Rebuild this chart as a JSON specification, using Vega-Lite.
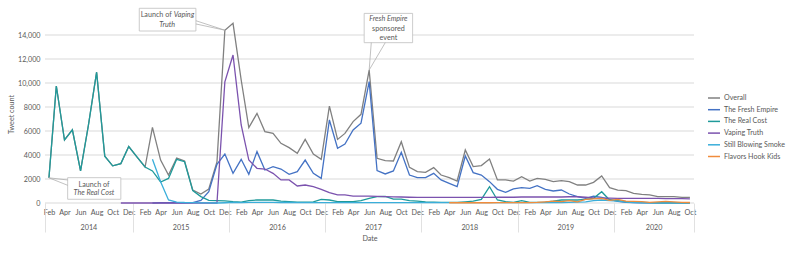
{
  "$schema": "https://vega.github.io/schema/vega-lite/v6.json",
  "width": 649,
  "height": 186,
  "autosize": {"type": "none"},
  "padding": {"left": 45, "top": 17, "right": 92, "bottom": 48},
  "background": "white",
  "config": {
    "view": {"stroke": null},
    "font": "Lato",
    "axis": {"labelColor": "#595959", "labelFont": "Lato", "labelFontSize": 7.2, "titleColor": "#595959", "titleFont": "Lato", "titleFontSize": 7.2, "titleFontWeight": "normal"},
    "legend": {"labelColor": "#595959", "labelFont": "Lato", "labelFontSize": 7.1, "labelLimit": 300}
  },
  "datasets": {
    "tweets": [
      {"date": "2014-02-01", "Overall": 2100, "The Real Cost": 2100},
      {"date": "2014-03-01", "Overall": 9750, "The Real Cost": 9750},
      {"date": "2014-04-01", "Overall": 5250, "The Real Cost": 5250},
      {"date": "2014-05-01", "Overall": 6100, "The Real Cost": 6100},
      {"date": "2014-06-01", "Overall": 2670, "The Real Cost": 2670},
      {"date": "2014-07-01", "Overall": 6500, "The Real Cost": 6500},
      {"date": "2014-08-01", "Overall": 10900, "The Real Cost": 10900},
      {"date": "2014-09-01", "Overall": 3900, "The Real Cost": 3900},
      {"date": "2014-10-01", "Overall": 3100, "The Real Cost": 3100},
      {"date": "2014-11-01", "Overall": 3280, "The Real Cost": 3280, "Vaping Truth": 0},
      {"date": "2014-12-01", "Overall": 4700, "The Real Cost": 4700, "Vaping Truth": 0},
      {"date": "2015-01-01", "Overall": 3850, "The Real Cost": 3850, "Vaping Truth": 0},
      {"date": "2015-02-01", "Overall": 3000, "The Real Cost": 3000, "Vaping Truth": 0},
      {"date": "2015-03-01", "Overall": 6300, "The Fresh Empire": 0, "The Real Cost": 2670, "Vaping Truth": 0, "Still Blowing Smoke": 3650},
      {"date": "2015-04-01", "Overall": 3580, "The Fresh Empire": 20, "The Real Cost": 1750, "Vaping Truth": 0, "Still Blowing Smoke": 1780},
      {"date": "2015-05-01", "Overall": 2330, "The Fresh Empire": 30, "The Real Cost": 2050, "Vaping Truth": 0, "Still Blowing Smoke": 250},
      {"date": "2015-06-01", "Overall": 3740, "The Fresh Empire": 20, "The Real Cost": 3640, "Vaping Truth": 0, "Still Blowing Smoke": 80},
      {"date": "2015-07-01", "Overall": 3500, "The Fresh Empire": 20, "The Real Cost": 3440, "Vaping Truth": 0, "Still Blowing Smoke": 40},
      {"date": "2015-08-01", "Overall": 1080, "The Fresh Empire": 30, "The Real Cost": 1030, "Vaping Truth": 0, "Still Blowing Smoke": 30},
      {"date": "2015-09-01", "Overall": 750, "The Fresh Empire": 220, "The Real Cost": 530, "Vaping Truth": 0, "Still Blowing Smoke": 10},
      {"date": "2015-10-01", "Overall": 1170, "The Fresh Empire": 940, "The Real Cost": 220, "Vaping Truth": 0, "Still Blowing Smoke": 10},
      {"date": "2015-11-01", "Overall": 3420, "The Fresh Empire": 3220, "The Real Cost": 200, "Vaping Truth": 0, "Still Blowing Smoke": 0},
      {"date": "2015-12-01", "Overall": 14400, "The Fresh Empire": 4080, "The Real Cost": 180, "Vaping Truth": 10100, "Still Blowing Smoke": 20},
      {"date": "2016-01-01", "Overall": 14970, "The Fresh Empire": 2470, "The Real Cost": 120, "Vaping Truth": 12330, "Still Blowing Smoke": 50},
      {"date": "2016-02-01", "Overall": 10250, "The Fresh Empire": 3640, "The Real Cost": 80, "Vaping Truth": 6500, "Still Blowing Smoke": 30},
      {"date": "2016-03-01", "Overall": 6280, "The Fresh Empire": 2390, "The Real Cost": 200, "Vaping Truth": 3580, "Still Blowing Smoke": 60},
      {"date": "2016-04-01", "Overall": 7470, "The Fresh Empire": 4280, "The Real Cost": 250, "Vaping Truth": 2890, "Still Blowing Smoke": 50},
      {"date": "2016-05-01", "Overall": 5950, "The Fresh Empire": 2750, "The Real Cost": 250, "Vaping Truth": 2830, "Still Blowing Smoke": 50},
      {"date": "2016-06-01", "Overall": 5800, "The Fresh Empire": 3030, "The Real Cost": 250, "Vaping Truth": 2470, "Still Blowing Smoke": 50},
      {"date": "2016-07-01", "Overall": 4970, "The Fresh Empire": 2830, "The Real Cost": 150, "Vaping Truth": 1920, "Still Blowing Smoke": 40},
      {"date": "2016-08-01", "Overall": 4610, "The Fresh Empire": 2390, "The Real Cost": 120, "Vaping Truth": 1920, "Still Blowing Smoke": 40},
      {"date": "2016-09-01", "Overall": 4140, "The Fresh Empire": 2610, "The Real Cost": 80, "Vaping Truth": 1420, "Still Blowing Smoke": 30},
      {"date": "2016-10-01", "Overall": 5300, "The Fresh Empire": 3580, "The Real Cost": 80, "Vaping Truth": 1500, "Still Blowing Smoke": 30},
      {"date": "2016-11-01", "Overall": 4080, "The Fresh Empire": 2470, "The Real Cost": 100, "Vaping Truth": 1360, "Still Blowing Smoke": 30},
      {"date": "2016-12-01", "Overall": 3640, "The Fresh Empire": 2050, "The Real Cost": 300, "Vaping Truth": 1140, "Still Blowing Smoke": 30},
      {"date": "2017-01-01", "Overall": 8080, "The Fresh Empire": 6920, "The Real Cost": 250, "Vaping Truth": 860, "Still Blowing Smoke": 30},
      {"date": "2017-02-01", "Overall": 5300, "The Fresh Empire": 4560, "The Real Cost": 120, "Vaping Truth": 670, "Still Blowing Smoke": 30},
      {"date": "2017-03-01", "Overall": 5800, "The Fresh Empire": 4920, "The Real Cost": 120, "Vaping Truth": 670, "Still Blowing Smoke": 30},
      {"date": "2017-04-01", "Overall": 6780, "The Fresh Empire": 6080, "The Real Cost": 120, "Vaping Truth": 580, "Still Blowing Smoke": 30},
      {"date": "2017-05-01", "Overall": 7390, "The Fresh Empire": 6650, "The Real Cost": 200, "Vaping Truth": 580, "Still Blowing Smoke": 30},
      {"date": "2017-06-01", "Overall": 11080, "The Fresh Empire": 10110, "The Real Cost": 390, "Vaping Truth": 580, "Still Blowing Smoke": 30},
      {"date": "2017-07-01", "Overall": 3720, "The Fresh Empire": 2700, "The Real Cost": 530, "Vaping Truth": 560, "Still Blowing Smoke": 30},
      {"date": "2017-08-01", "Overall": 3530, "The Fresh Empire": 2420, "The Real Cost": 550, "Vaping Truth": 530, "Still Blowing Smoke": 30},
      {"date": "2017-09-01", "Overall": 3500, "The Fresh Empire": 2670, "The Real Cost": 330, "Vaping Truth": 510, "Still Blowing Smoke": 30},
      {"date": "2017-10-01", "Overall": 5110, "The Fresh Empire": 4220, "The Real Cost": 330, "Vaping Truth": 500, "Still Blowing Smoke": 30},
      {"date": "2017-11-01", "Overall": 2970, "The Fresh Empire": 2330, "The Real Cost": 200, "Vaping Truth": 480, "Still Blowing Smoke": 30},
      {"date": "2017-12-01", "Overall": 2610, "The Fresh Empire": 2110, "The Real Cost": 150, "Vaping Truth": 470, "Still Blowing Smoke": 30},
      {"date": "2018-01-01", "Overall": 2550, "The Fresh Empire": 2110, "The Real Cost": 100, "Vaping Truth": 470, "Still Blowing Smoke": 30},
      {"date": "2018-02-01", "Overall": 2950, "The Fresh Empire": 2470, "The Real Cost": 80, "Vaping Truth": 470, "Still Blowing Smoke": 30},
      {"date": "2018-03-01", "Overall": 2330, "The Fresh Empire": 1920, "The Real Cost": 50, "Vaping Truth": 470, "Still Blowing Smoke": 30},
      {"date": "2018-04-01", "Overall": 2110, "The Fresh Empire": 1640, "The Real Cost": 50, "Vaping Truth": 470, "Still Blowing Smoke": 30, "Flavors Hook Kids": 20},
      {"date": "2018-05-01", "Overall": 1830, "The Fresh Empire": 1360, "The Real Cost": 50, "Vaping Truth": 470, "Still Blowing Smoke": 30, "Flavors Hook Kids": 20},
      {"date": "2018-06-01", "Overall": 4420, "The Fresh Empire": 3920, "The Real Cost": 100, "Vaping Truth": 470, "Still Blowing Smoke": 30, "Flavors Hook Kids": 20},
      {"date": "2018-07-01", "Overall": 3030, "The Fresh Empire": 2530, "The Real Cost": 150, "Vaping Truth": 470, "Still Blowing Smoke": 30, "Flavors Hook Kids": 20},
      {"date": "2018-08-01", "Overall": 3120, "The Fresh Empire": 2330, "The Real Cost": 300, "Vaping Truth": 470, "Still Blowing Smoke": 30, "Flavors Hook Kids": 20},
      {"date": "2018-09-01", "Overall": 3670, "The Fresh Empire": 1780, "The Real Cost": 1360, "Vaping Truth": 470, "Still Blowing Smoke": 30, "Flavors Hook Kids": 20},
      {"date": "2018-10-01", "Overall": 1920, "The Fresh Empire": 1140, "The Real Cost": 250, "Vaping Truth": 480, "Still Blowing Smoke": 30, "Flavors Hook Kids": 30},
      {"date": "2018-11-01", "Overall": 1920, "The Fresh Empire": 890, "The Real Cost": 110, "Vaping Truth": 480, "Still Blowing Smoke": 30, "Flavors Hook Kids": 30},
      {"date": "2018-12-01", "Overall": 1830, "The Fresh Empire": 1170, "The Real Cost": 50, "Vaping Truth": 480, "Still Blowing Smoke": 30, "Flavors Hook Kids": 30},
      {"date": "2019-01-01", "Overall": 2190, "The Fresh Empire": 1280, "The Real Cost": 190, "Vaping Truth": 500, "Still Blowing Smoke": 30, "Flavors Hook Kids": 30},
      {"date": "2019-02-01", "Overall": 1830, "The Fresh Empire": 1220, "The Real Cost": 50, "Vaping Truth": 500, "Still Blowing Smoke": 30, "Flavors Hook Kids": 30},
      {"date": "2019-03-01", "Overall": 2050, "The Fresh Empire": 1440, "The Real Cost": 50, "Vaping Truth": 500, "Still Blowing Smoke": 30, "Flavors Hook Kids": 50},
      {"date": "2019-04-01", "Overall": 1970, "The Fresh Empire": 1140, "The Real Cost": 80, "Vaping Truth": 500, "Still Blowing Smoke": 30, "Flavors Hook Kids": 100},
      {"date": "2019-05-01", "Overall": 1780, "The Fresh Empire": 1000, "The Real Cost": 150, "Vaping Truth": 500, "Still Blowing Smoke": 30, "Flavors Hook Kids": 150},
      {"date": "2019-06-01", "Overall": 1860, "The Fresh Empire": 1080, "The Real Cost": 250, "Vaping Truth": 500, "Still Blowing Smoke": 40, "Flavors Hook Kids": 120},
      {"date": "2019-07-01", "Overall": 1780, "The Fresh Empire": 750, "The Real Cost": 250, "Vaping Truth": 520, "Still Blowing Smoke": 60, "Flavors Hook Kids": 200},
      {"date": "2019-08-01", "Overall": 1500, "The Fresh Empire": 530, "The Real Cost": 250, "Vaping Truth": 520, "Still Blowing Smoke": 80, "Flavors Hook Kids": 100},
      {"date": "2019-09-01", "Overall": 1500, "The Fresh Empire": 390, "The Real Cost": 300, "Vaping Truth": 480, "Still Blowing Smoke": 100, "Flavors Hook Kids": 300},
      {"date": "2019-10-01", "Overall": 1720, "The Fresh Empire": 580, "The Real Cost": 390, "Vaping Truth": 420, "Still Blowing Smoke": 200, "Flavors Hook Kids": 350},
      {"date": "2019-11-01", "Overall": 2250, "The Fresh Empire": 470, "The Real Cost": 940, "Vaping Truth": 400, "Still Blowing Smoke": 250, "Flavors Hook Kids": 380},
      {"date": "2019-12-01", "Overall": 1280, "The Fresh Empire": 300, "The Real Cost": 250, "Vaping Truth": 400, "Still Blowing Smoke": 200, "Flavors Hook Kids": 220},
      {"date": "2020-01-01", "Overall": 1080, "The Fresh Empire": 130, "The Real Cost": 190, "Vaping Truth": 390, "Still Blowing Smoke": 150, "Flavors Hook Kids": 300},
      {"date": "2020-02-01", "Overall": 1030, "The Fresh Empire": 50, "The Real Cost": 110, "Vaping Truth": 390, "Still Blowing Smoke": 80, "Flavors Hook Kids": 150},
      {"date": "2020-03-01", "Overall": 810, "The Fresh Empire": 30, "The Real Cost": 80, "Vaping Truth": 390, "Still Blowing Smoke": 40, "Flavors Hook Kids": 130},
      {"date": "2020-04-01", "Overall": 720, "The Fresh Empire": 20, "The Real Cost": 50, "Vaping Truth": 390, "Still Blowing Smoke": 20, "Flavors Hook Kids": 120},
      {"date": "2020-05-01", "Overall": 670, "The Fresh Empire": 20, "The Real Cost": 30, "Vaping Truth": 380, "Still Blowing Smoke": 20, "Flavors Hook Kids": 60},
      {"date": "2020-06-01", "Overall": 530, "The Fresh Empire": 10, "The Real Cost": 20, "Vaping Truth": 380, "Still Blowing Smoke": 10, "Flavors Hook Kids": 100},
      {"date": "2020-07-01", "Overall": 530, "The Fresh Empire": 10, "The Real Cost": 20, "Vaping Truth": 370, "Still Blowing Smoke": 10, "Flavors Hook Kids": 130},
      {"date": "2020-08-01", "Overall": 530, "The Fresh Empire": 10, "The Real Cost": 20, "Vaping Truth": 370, "Still Blowing Smoke": 10, "Flavors Hook Kids": 90},
      {"date": "2020-09-01", "Overall": 470, "The Fresh Empire": 10, "The Real Cost": 20, "Vaping Truth": 360, "Still Blowing Smoke": 10, "Flavors Hook Kids": 60},
      {"date": "2020-10-01", "Overall": 470, "The Fresh Empire": 10, "The Real Cost": 10, "Vaping Truth": 350, "Still Blowing Smoke": 10, "Flavors Hook Kids": 40}
    ],
    "gridlines": [
      {"value": 0}, {"value": 2000}, {"value": 4000}, {"value": 6000}, {"value": 8000}, {"value": 10000}, {"value": 12000}, {"value": 14000}
    ],
    "boxes": [
      {"date": "2015-01-10", "date2": "2015-08-13", "value": 16225, "value2": 14333},
      {"date": "2014-04-13", "date2": "2014-11-01", "value": 2110, "value2": 310},
      {"date": "2017-05-13", "date2": "2017-11-13", "value": 15800, "value2": 13360}
    ],
    "leaders": [
      {"date": "2015-08-13", "value": 15190, "date2": "2015-12-01", "value2": 14400},
      {"date": "2015-08-13", "value": 14920, "date2": "2015-12-01", "value2": 14400},
      {"date": "2014-04-13", "value": 1917, "date2": "2014-02-01", "value2": 2100},
      {"date": "2014-04-13", "value": 1475, "date2": "2014-02-01", "value2": 2100},
      {"date": "2017-06-09", "value": 13360, "date2": "2017-06-01", "value2": 11080},
      {"date": "2017-08-01", "value": 13360, "date2": "2017-06-01", "value2": 11080}
    ],
    "textRegular": [
      {"date": "2014-07-22", "value": 1525, "text": "Launch of"},
      {"date": "2017-08-13", "value": 14525, "text": "sponsored"},
      {"date": "2017-08-13", "value": 13775, "text": "event"}
    ],
    "textItalic": [
      {"date": "2015-04-26", "value": 14858, "text": "Truth"},
      {"date": "2014-07-22", "value": 808, "text": "The Real Cost"},
      {"date": "2017-08-13", "value": 15308, "text": "Fresh Empire"}
    ],
    "textSplit": [
      {"date": "2015-05-17", "value": 15667, "left": "Launch of", "right": "Vaping"}
    ]
  },
  "resolve": {"axis": {"x": "independent", "y": "independent"}},
  "layer": [
    {
      "data": {"name": "gridlines"},
      "mark": {"type": "rule", "stroke": "#D9D9D9", "strokeWidth": 1},
      "encoding": {
        "y": {"field": "value", "type": "quantitative", "scale": {"domain": [0, 15500], "nice": false, "zero": true},
          "axis": {"orient": "left", "values": [0, 2000, 4000, 6000, 8000, 10000, 12000, 14000], "labelExpr": "datum.value >= 10000 ? format(datum.value, ',') : format(datum.value, 'd')", "labelOverlap": false, "grid": false, "domain": false, "ticks": false, "labelPadding": 5, "title": "Tweet count", "titleX": -30, "titleY": 97}}
      }
    },
    {
      "data": {"name": "tweets"},
      "transform": [{"fold": ["Overall", "The Fresh Empire", "The Real Cost", "Vaping Truth", "Still Blowing Smoke", "Flavors Hook Kids"], "as": ["series", "value"]}],
      "mark": {"type": "line", "strokeWidth": 1.3},
      "encoding": {
        "x": {
          "field": "date", "type": "temporal",
          "scale": {"type": "utc", "domain": [{"year": 2014, "month": 1, "date": 17, "utc": true}, {"year": 2020, "month": 10, "date": 16, "hours": 12, "utc": true}]},
          "axis": {"orient": "bottom", "tickCount": {"interval": "month", "step": 1}, "labelExpr": "utcmonth(datum.value) % 2 == 1 ? utcFormat(datum.value, '%b') : ''", "labelOverlap": false, "labelFlush": false, "ticks": false, "domain": false, "grid": false, "labelPadding": 5, "title": null}
        },
        "y": {"field": "value", "type": "quantitative", "axis": null},
        "color": {
          "field": "series", "type": "nominal",
          "scale": {"domain": ["Overall", "The Fresh Empire", "The Real Cost", "Vaping Truth", "Still Blowing Smoke", "Flavors Hook Kids"], "range": ["#808080", "#4472C4", "#1F9A9A", "#7B52AE", "#3AAEDA", "#F08C3C"]},
          "legend": {"title": null, "orient": "none", "legendX": 662, "legendY": 74, "symbolType": "stroke", "symbolSize": 144, "symbolStrokeWidth": 1.5, "rowPadding": 0.7, "labelOffset": 3, "labelLimit": 300}
        }
      }
    },
    {
      "data": {"name": "boxes"},
      "mark": {"type": "rect", "fill": "white", "stroke": "#BFBFBF", "strokeWidth": 0.8},
      "encoding": {
        "x": {"field": "date", "type": "temporal",
          "axis": {"orient": "bottom", "values": [
            {"year": 2014, "month": 1, "date": 17, "utc": true},
            {"year": 2014, "month": 12, "date": 16, "hours": 12, "utc": true},
            {"year": 2015, "month": 12, "date": 16, "hours": 12, "utc": true},
            {"year": 2016, "month": 12, "date": 16, "hours": 12, "utc": true},
            {"year": 2017, "month": 12, "date": 16, "hours": 12, "utc": true},
            {"year": 2018, "month": 12, "date": 16, "hours": 12, "utc": true},
            {"year": 2019, "month": 12, "date": 16, "hours": 12, "utc": true},
            {"year": 2020, "month": 10, "date": 16, "hours": 12, "utc": true}
          ], "labels": false, "ticks": true, "tickSize": 29, "tickColor": "#D9D9D9", "tickWidth": 0.8, "domain": false, "grid": false, "title": null}},
        "x2": {"field": "date2"},
        "y": {"field": "value", "type": "quantitative", "axis": null},
        "y2": {"field": "value2"}
      }
    },
    {
      "data": {"name": "leaders"},
      "mark": {"type": "rule", "stroke": "#A6A6A6", "strokeWidth": 0.7},
      "encoding": {
        "x": {"field": "date", "type": "temporal", "axis": null},
        "x2": {"field": "date2"},
        "y": {"field": "value", "type": "quantitative", "axis": null},
        "y2": {"field": "value2"}
      }
    },
    {
      "data": {"name": "textRegular"},
      "mark": {"type": "text", "font": "Lato", "fontSize": 7.2, "color": "#595959", "align": "center", "baseline": "middle"},
      "encoding": {
        "x": {"field": "date", "type": "temporal",
          "axis": {"orient": "bottom", "values": [
            {"year": 2014, "month": 7, "date": 1, "utc": true},
            {"year": 2015, "month": 6, "date": 16, "utc": true},
            {"year": 2016, "month": 6, "date": 16, "utc": true},
            {"year": 2017, "month": 6, "date": 16, "utc": true},
            {"year": 2018, "month": 6, "date": 16, "utc": true},
            {"year": 2019, "month": 6, "date": 16, "utc": true},
            {"year": 2020, "month": 5, "date": 16, "utc": true}
          ], "labelExpr": "utcFormat(datum.value, '%Y')", "labelOverlap": false, "labelFlush": false, "ticks": false, "domain": false, "grid": false, "labelPadding": 20, "title": "Date", "titlePadding": 4}},
        "y": {"field": "value", "type": "quantitative", "axis": null},
        "text": {"field": "text"}
      }
    },
    {
      "data": {"name": "textItalic"},
      "mark": {"type": "text", "font": "Lato", "fontSize": 7.2, "fontStyle": "italic", "color": "#595959", "align": "center", "baseline": "middle"},
      "encoding": {
        "x": {"field": "date", "type": "temporal", "axis": null},
        "y": {"field": "value", "type": "quantitative", "axis": null},
        "text": {"field": "text"}
      }
    },
    {
      "data": {"name": "textSplit"},
      "mark": {"type": "text", "font": "Lato", "fontSize": 7.2, "color": "#595959", "align": "right", "baseline": "middle", "dx": -1},
      "encoding": {
        "x": {"field": "date", "type": "temporal", "axis": null},
        "y": {"field": "value", "type": "quantitative", "axis": null},
        "text": {"field": "left"}
      }
    },
    {
      "data": {"name": "textSplit"},
      "mark": {"type": "text", "font": "Lato", "fontSize": 7.2, "fontStyle": "italic", "color": "#595959", "align": "left", "baseline": "middle", "dx": 1},
      "encoding": {
        "x": {"field": "date", "type": "temporal", "axis": null},
        "y": {"field": "value", "type": "quantitative", "axis": null},
        "text": {"field": "right"}
      }
    }
  ]
}
